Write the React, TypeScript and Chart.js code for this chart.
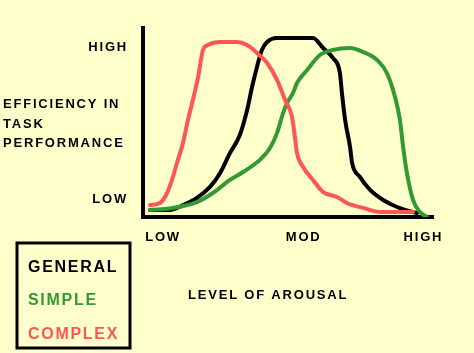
import React, { useEffect, useRef } from "react";
import { Chart, registerables } from "chart.js";

Chart.register(...registerables);

// Arousal (x, 0-100) vs efficiency (y, 0-100)
const generalX = [2.4, 9.3, 13.8, 18.6, 23.1, 26.6, 30.0, 33.4, 35.9, 37.6, 39.3, 41.0, 42.8, 46.2, 58.6, 62.1, 65.5, 67.9, 68.6, 69.7, 71.4, 72.1, 74.8, 78.3, 82.8, 87.6, 93.1, 94.5];
const generalY = [3.7, 3.7, 6.3, 10.1, 15.9, 23.3, 33.9, 43.4, 56.6, 68.8, 79.4, 88.4, 92.6, 94.7, 94.7, 89.4, 84.1, 76.2, 65.6, 51.3, 37.0, 28.6, 21.2, 14.3, 9.0, 5.3, 2.6, 2.1];

const simpleX = [2.4, 10.3, 18.6, 24.1, 30.0, 34.5, 40.3, 43.8, 46.2, 48.3, 49.7, 51.7, 53.1, 56.6, 61.0, 65.5, 71.4, 75.9, 80.7, 84.1, 86.9, 88.6, 89.7, 91.0, 93.1, 95.5, 97.9];
const simpleY = [3.7, 4.8, 7.9, 12.7, 19.6, 23.8, 30.2, 36.5, 44.4, 55.0, 60.3, 65.6, 70.9, 77.8, 85.7, 88.4, 89.4, 87.3, 83.1, 76.2, 63.5, 51.3, 37.0, 23.3, 9.0, 2.6, 0];

const complexX = [2.4, 5.9, 8.3, 10.0, 11.7, 13.8, 15.5, 17.2, 19.0, 20.7, 22.4, 26.6, 32.4, 35.9, 39.3, 42.8, 46.2, 49.0, 51.4, 52.4, 53.1, 55.2, 58.6, 62.1, 66.9, 70.3, 75.9, 81.7, 93.1];
const complexY = [6.3, 7.4, 12.7, 19.6, 28.6, 39.2, 51.3, 61.9, 74.1, 88.4, 91.0, 92.6, 92.6, 91.0, 86.8, 81.5, 72.5, 61.9, 52.9, 42.0, 33.9, 26.5, 19.6, 13.2, 10.6, 7.4, 4.8, 2.6, 2.6];

const xTickValues = [6.9, 55.4, 96.7];
const xTickLabels = ["LOW", "MOD", "HIGH"];
const yTickValues = [9.5, 89.9];
const yTickLabels = ["LOW", "HIGH"];

const yTitleLines = ["EFFICIENCY IN", "TASK", "PERFORMANCE"];
const xTitle = "LEVEL OF AROUSAL";
const seriesLabels = ["GENERAL", "SIMPLE", "COMPLEX"];

const BG = "#ffffcc";
const BLACK = "#000000";
const GREEN = "#339933";
const RED = "#ff5555";
const FONT = '"Liberation Sans", Arial, sans-serif';

const pts = (xs: number[], ys: number[]) => xs.map((x, i) => ({ x, y: ys[i] }));

export default function App() {
  const ref = useRef<HTMLCanvasElement>(null);

  useEffect(() => {
    const canvas = ref.current!;
    const textPlugin = {
      id: "textPlugin",
      beforeLayout(chart: any) {
        chart.ctx.letterSpacing = "1.8px";
      },
      beforeDraw(chart: any) {
        const ctx = chart.ctx;
        ctx.save();
        ctx.fillStyle = BG;
        ctx.fillRect(0, 0, chart.width, chart.height);
        ctx.restore();
        ctx.letterSpacing = "1.8px";
      },
      afterDraw(chart: any) {
        const ctx = chart.ctx;
        ctx.save();
        ctx.fillStyle = BLACK;
        ctx.font = `bold 13px ${FONT}`;
        ctx.letterSpacing = "1.8px";
        ctx.textAlign = "left";
        ctx.textBaseline = "alphabetic";
        yTitleLines.forEach((t, i) => ctx.fillText(t, 3, 108 + i * 19.5));
        ctx.fillText(xTitle, 188, 299);

        ctx.lineWidth = 3;
        ctx.strokeStyle = BLACK;
        ctx.strokeRect(17, 243, 113, 105);

        ctx.font = `bold 16px ${FONT}`;
        ctx.letterSpacing = "1.7px";
        const colors = [BLACK, GREEN, RED];
        seriesLabels.forEach((t, i) => {
          ctx.fillStyle = colors[i];
          ctx.fillText(t, 28, 271.5 + i * 33.75);
        });
        ctx.restore();
      },
    };

    const chart = new Chart(canvas, {
      type: "line",
      data: {
        datasets: [
          { label: seriesLabels[2], data: pts(complexX, complexY), borderColor: RED, backgroundColor: RED },
          { label: seriesLabels[1], data: pts(simpleX, simpleY), borderColor: GREEN, backgroundColor: GREEN },
          { label: seriesLabels[0], data: pts(generalX, generalY), borderColor: BLACK, backgroundColor: BLACK },
        ],
      },
      options: {
        responsive: false,
        animation: false,
        devicePixelRatio: 1,
        layout: { padding: { left: 0, top: 28, right: 41, bottom: 0 } },
        elements: {
          point: { radius: 0, hoverRadius: 0 },
          line: { borderWidth: 4, cubicInterpolationMode: "monotone", borderCapStyle: "round", borderJoinStyle: "round" },
        },
        plugins: { legend: { display: false }, tooltip: { enabled: false } },
        events: [],
        scales: {
          x: {
            type: "linear",
            min: 0,
            max: 100,
            grid: { display: false, drawTicks: false },
            border: { display: true, color: BLACK, width: 4 },
            afterBuildTicks: (s: any) => {
              s.ticks = xTickValues.map((v) => ({ value: v }));
            },
            afterFit: (s: any) => {
              s.height = 136;
            },
            ticks: {
              autoSkip: false,
              maxRotation: 0,
              minRotation: 0,
              padding: 13,
              color: BLACK,
              font: { family: FONT, size: 13, weight: "bold", lineHeight: 1.2 },
              callback: (_v: any, i: number) => xTickLabels[i],
            },
          },
          y: {
            type: "linear",
            min: 0,
            max: 100,
            grid: { display: false, drawTicks: false },
            border: { display: true, color: BLACK, width: 4 },
            afterBuildTicks: (s: any) => {
              s.ticks = yTickValues.map((v) => ({ value: v }));
            },
            afterFit: (s: any) => {
              s.width = 143;
            },
            ticks: {
              autoSkip: false,
              padding: 15,
              color: BLACK,
              font: { family: FONT, size: 13, weight: "bold" },
              callback: (_v: any, i: number) => yTickLabels[i],
            },
          },
        },
      },
      plugins: [textPlugin],
    } as any);

    return () => chart.destroy();
  }, []);

  return (
    <div style={{ position: "fixed", left: 0, top: 0, width: 474, height: 353, background: BG }}>
      <canvas ref={ref} width={474} height={353} style={{ display: "block", width: 474, height: 353 }} />
    </div>
  );
}
